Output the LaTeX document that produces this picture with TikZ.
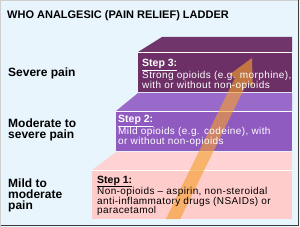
\documentclass[tikz,border=0pt]{standalone}
\usepackage{fontspec}
\setmainfont{Liberation Sans}
\begin{document}
\begin{tikzpicture}[x=1pt,y=-1pt,
  lbl/.style={anchor=base west,inner sep=0pt,font=\fontsize{12}{12}\selectfont\bfseries},
  ttl/.style={anchor=base west,inner sep=0pt,font=\fontsize{11}{11}\selectfont\bfseries},
  hdr/.style={anchor=base west,inner sep=0pt,font=\fontsize{10.5}{10.5}\selectfont\bfseries},
  body/.style={anchor=base west,inner sep=0pt,font=\fontsize{10}{10}\selectfont\addfontfeature{LetterSpace=4}},
  wbody/.style={anchor=base west,inner sep=0pt,white,font=\fontsize{10}{10}\selectfont\addfontfeature{LetterSpace=4}},
  sep/.style={white,line width=1.4pt}]
\definecolor{bg}{HTML}{E8F5FC}
\definecolor{sthree}{HTML}{6C3066}
\definecolor{sthreetop}{HTML}{70366B}
\definecolor{stwo}{HTML}{8F5BC1}
\definecolor{stwotop}{HTML}{996ACA}
\definecolor{sone}{HTML}{FFCCCC}
\definecolor{sonetop}{HTML}{FFD3D3}
\definecolor{arr}{RGB}{245,160,45}
\definecolor{frame}{HTML}{3C3C3C}
\useasboundingbox (0,0) rectangle (300,227);
\fill[bg] (0,0) rectangle (300,227);
\draw[frame!25,line width=0.8pt] (0.4,227) -- (0.4,0.4) -- (298,0.4);
\draw[frame,line width=1.6pt] (0.8,225.6) -- (298.4,225.6) -- (298.4,0);
% step 1
\fill[sonetop] (92,170) -- (116,152) -- (292,152) -- (292,170) -- cycle;
\fill[sone] (92,171) rectangle (292,219);
% step 2
\fill[stwotop] (116,111) -- (138,93) -- (292,93) -- (292,111) -- cycle;
\fill[stwo] (116,112) rectangle (292,151);
% step 3
\fill[sthreetop] (138,52) -- (162,37) -- (292,37) -- (292,52) -- cycle;
\fill[sthree] (138,53) rectangle (292,92);
% separators
\draw[sep] (138,52.5) -- (292,52.5);
\draw[sep] (116,111.5) -- (292,111.5);
\draw[sep] (92,170.5) -- (292,170.5);
% arrow
\fill[arr,opacity=0.62] (165.8,219) -- (235.2,77.5) -- (229.3,74.7) -- (252,58)
  -- (252.7,86.1) -- (246.8,83.3) -- (180.2,219) -- cycle;
% texts
\node[ttl] (title) at (7,19) {WHO ANALGESIC (PAIN RELIEF) LADDER};
\node[lbl] (l3) at (8,77) {Severe pain};
\node[lbl] (l2a) at (8,128) {Moderate to};
\node[lbl] (l2b) at (8,139) {severe pain};
\node[lbl] (l1a) at (8,187) {Mild to};
\node[lbl] (l1b) at (8,198) {moderate};
\node[lbl] (l1c) at (8,209) {pain};
\node[hdr,white] (h3) at (142,67) {\underline{Step 3:}};
\node[wbody] (b3a) at (142,79) {Strong opioids (e.g. morphine),};
\node[wbody] (b3b) at (142,89) {with or without non-opioids};
\node[hdr,white] (h2) at (118,123) {\underline{Step 2:}};
\node[wbody] (b2a) at (118,135) {Mild opioids (e.g. codeine), with};
\node[wbody] (b2b) at (118,145) {or without non-opioids};
\node[hdr] (h1) at (97,183) {\underline{Step 1:}};
\node[body] (b1a) at (97,195) {Non-opioids – aspirin, non-steroidal};
\node[body] (b1b) at (97,204.5) {anti-inflammatory drugs (NSAIDs) or};
\node[body] (b1c) at (97,214) {paracetamol};
\end{tikzpicture}
\end{document}
